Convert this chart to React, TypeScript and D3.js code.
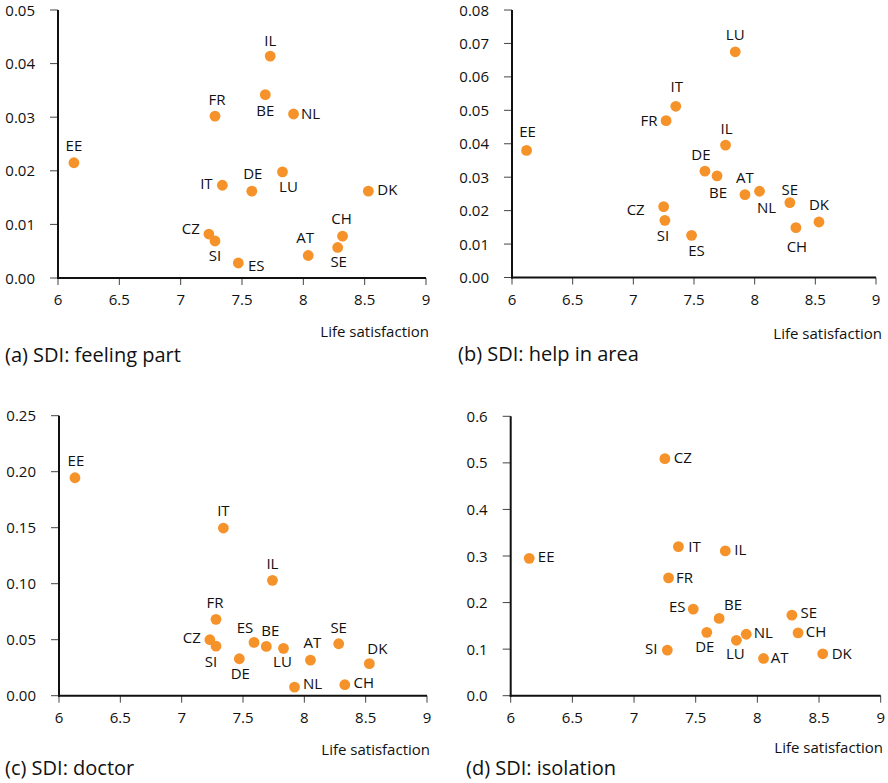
import React from "react";
import * as d3 from "d3";

// ---------- data ----------
const xTicks = [6, 6.5, 7, 7.5, 8, 8.5, 9];
const xLabel = "Life satisfaction";

const aTitle = "(a) SDI: feeling part";
const aCodes = ["IL", "BE", "FR", "NL", "EE", "LU", "IT", "DE", "DK", "CH", "CZ", "SI", "SE", "AT", "ES"];
const aLife = [7.73, 7.69, 7.28, 7.92, 6.13, 7.83, 7.34, 7.58, 8.53, 8.32, 7.23, 7.28, 8.28, 8.04, 7.47];
const aSdi = [0.0414, 0.0342, 0.0302, 0.0306, 0.0215, 0.0198, 0.0173, 0.0162, 0.0162, 0.0078, 0.0082, 0.0069, 0.0057, 0.0042, 0.0028];
const aYTicks = [0, 0.01, 0.02, 0.03, 0.04, 0.05];

const bTitle = "(b) SDI: help in area";
const bCodes = ["LU", "IT", "FR", "EE", "IL", "DE", "BE", "AT", "NL", "SE", "CZ", "DK", "SI", "CH", "ES"];
const bLife = [7.84, 7.35, 7.27, 6.12, 7.76, 7.59, 7.69, 7.92, 8.04, 8.29, 7.25, 8.53, 7.26, 8.34, 7.48];
const bSdi = [0.0675, 0.0512, 0.0469, 0.0380, 0.0396, 0.0318, 0.0304, 0.0248, 0.0258, 0.0224, 0.0212, 0.0166, 0.0171, 0.0149, 0.0126];
const bYTicks = [0, 0.01, 0.02, 0.03, 0.04, 0.05, 0.06, 0.07, 0.08];

const cTitle = "(c) SDI: doctor";
const cCodes = ["EE", "IT", "IL", "FR", "CZ", "SI", "ES", "BE", "LU", "SE", "AT", "DE", "DK", "NL", "CH"];
const cLife = [6.13, 7.34, 7.74, 7.28, 7.23, 7.28, 7.59, 7.69, 7.83, 8.28, 8.05, 7.47, 8.53, 7.92, 8.33];
const cSdi = [0.1946, 0.1497, 0.1030, 0.0682, 0.0500, 0.0443, 0.0476, 0.0440, 0.0423, 0.0464, 0.0318, 0.0330, 0.0286, 0.0077, 0.0098];
const cYTicks = [0, 0.05, 0.1, 0.15, 0.2, 0.25];

const dTitle = "(d) SDI: isolation";
const dCodes = ["CZ", "IT", "IL", "EE", "FR", "ES", "BE", "SE", "CH", "DE", "NL", "LU", "SI", "DK", "AT"];
const dLife = [7.25, 7.36, 7.74, 6.15, 7.28, 7.48, 7.69, 8.28, 8.33, 7.59, 7.91, 7.83, 7.27, 8.53, 8.05];
const dSdi = [0.509, 0.320, 0.311, 0.295, 0.253, 0.186, 0.166, 0.173, 0.135, 0.136, 0.132, 0.119, 0.098, 0.090, 0.080];
const dYTicks = [0, 0.1, 0.2, 0.3, 0.4, 0.5, 0.6];

// ---------- layout (label offsets relative to the dot, px) ----------
const aOff = [[0, -14], [0, 17], [2, -15], [17, 1], [0, -16], [6, 16], [-16, 0], [1, -16], [19, 0], [-1, -16], [-18, -4], [0, 16], [1, 16], [-3, -17], [18, 4]];
const bOff = [[0, -16], [1, -18], [-17, 1], [1, -17], [1, -15], [-4, -15], [1, 18], [0, -16], [7, 18], [0, -12], [-28, 4], [0, -16], [-2, 17], [1, 20], [5, 17]];
const cOff = [[1, -16], [0, -16], [0, -15], [-1, -15], [-18, -1], [-5, 17], [-9, -13], [4, -14], [-1, 15], [0, -15], [2, -16], [1, 16], [8, -14], [18, -2], [19, -1]];
const dOff = [[18, 0], [16, 1], [15, 0], [17, 0], [16, 1], [-16, -1], [14, -12], [17, -1], [18, 0], [-2, 16], [17, 0], [-1, 15], [-16, 0], [19, 1], [16, 1]];

const FONT = "'Open Sans', 'DejaVu Sans', sans-serif";
const DOT = "#F5922A";
const INK = "#111";
const FS = 15;

type PanelProps = {
  title: string;
  codes: string[];
  life: number[];
  sdi: number[];
  yTicks: number[];
  yFmt: string;
  off: number[][];
  x0: number; x1: number; yTop: number; yBot: number;
  titleX: number; titleY: number; xLabelY: number; xLabelRight: number;
};

function Panel(p: PanelProps) {
  const xs = d3.scaleLinear().domain([6, 9]).range([p.x0, p.x1]);
  const ys = d3.scaleLinear().domain([0, p.yTicks[p.yTicks.length - 1]]).range([p.yBot, p.yTop]);
  const fy = d3.format(p.yFmt);
  const fx = d3.format("~g");
  return (
    <g>
      {p.yTicks.map((t) => (
        <g key={"y" + t}>
          <line x1={p.x0 - 8} x2={p.x0} y1={ys(t)} y2={ys(t)} stroke="#444" strokeWidth={1} />
          <text x={p.x0 - 23} y={ys(t) + 1.5} textAnchor="end" dominantBaseline="middle" fontSize={FS} fill={INK} fontFamily={FONT}>
            {fy(t)}
          </text>
        </g>
      ))}
      {xTicks.map((t) => (
        <g key={"x" + t}>
          <line x1={xs(t)} x2={xs(t)} y1={p.yBot} y2={p.yBot + 7} stroke="#444" strokeWidth={1} />
          <text x={xs(t)} y={p.yBot + 23} textAnchor="middle" dominantBaseline="middle" fontSize={FS} fill={INK} fontFamily={FONT}>
            {fx(t)}
          </text>
        </g>
      ))}
      <line x1={p.x0} x2={p.x0} y1={p.yTop} y2={p.yBot + 1} stroke="#111" strokeWidth={2} />
      <line x1={p.x0 - 1} x2={p.x1} y1={p.yBot} y2={p.yBot} stroke="#111" strokeWidth={2} />
      {p.codes.map((c, i) => (
        <g key={c}>
          <circle cx={xs(p.life[i])} cy={ys(p.sdi[i])} r={5.4} fill={DOT} />
          <text
            x={xs(p.life[i]) + p.off[i][0]}
            y={ys(p.sdi[i]) + p.off[i][1]}
            textAnchor="middle"
            dominantBaseline="middle"
            fontSize={FS}
            fill={INK}
            fontFamily={FONT}
          >
            {c}
          </text>
        </g>
      ))}
      <text x={p.xLabelRight} y={p.xLabelY} textAnchor="end" dominantBaseline="middle" fontSize={FS} fill={INK} fontFamily={FONT}>
        {xLabel}
      </text>
      <text x={p.titleX} y={p.titleY} dominantBaseline="middle" fontSize={20} fill={INK} fontFamily={FONT}>
        {p.title}
      </text>
    </g>
  );
}

export default function App() {
  return (
    <svg width={888} height={783} style={{ position: "absolute", left: 0, top: 0, background: "#fff" }}>
      <rect width={888} height={783} fill="#fff" />
      <Panel title={aTitle} codes={aCodes} life={aLife} sdi={aSdi} yTicks={aYTicks} yFmt=".2f" off={aOff}
        x0={58} x1={426} yTop={10} yBot={278} titleX={5} titleY={357} xLabelY={333} xLabelRight={429} />
      <Panel title={bTitle} codes={bCodes} life={bLife} sdi={bSdi} yTicks={bYTicks} yFmt=".2f" off={bOff}
        x0={512} x1={876} yTop={10} yBot={277.5} titleX={458} titleY={356} xLabelY={335} xLabelRight={882} />
      <Panel title={cTitle} codes={cCodes} life={cLife} sdi={cSdi} yTicks={cYTicks} yFmt=".2f" off={cOff}
        x0={59} x1={427} yTop={415.7} yBot={695.7} titleX={5} titleY={770} xLabelY={751} xLabelRight={430} />
      <Panel title={dTitle} codes={dCodes} life={dLife} sdi={dSdi} yTicks={dYTicks} yFmt=".1f" off={dOff}
        x0={510.7} x1={880.7} yTop={416.3} yBot={695.7} titleX={466} titleY={770} xLabelY={749} xLabelRight={883} />
    </svg>
  );
}
